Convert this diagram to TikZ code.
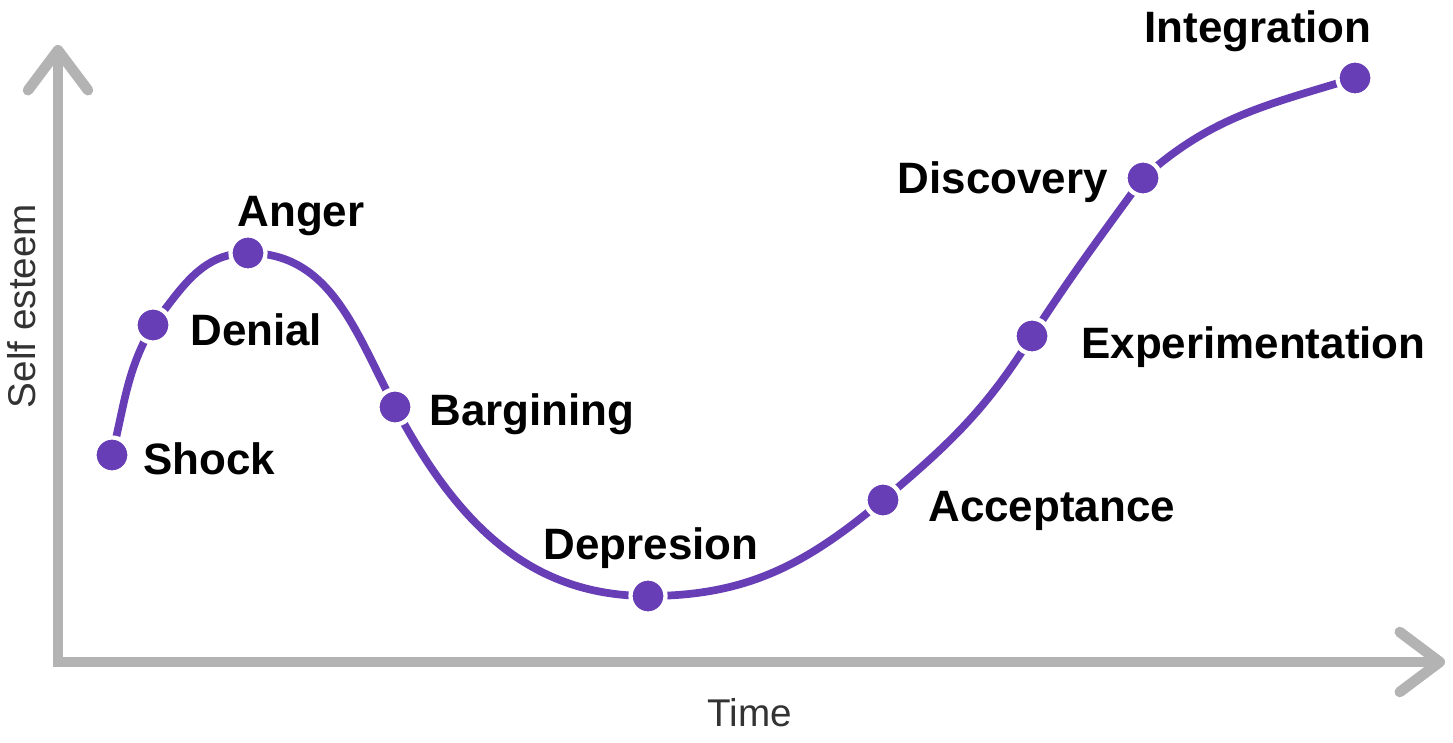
\documentclass[tikz,border=0pt]{standalone}
\usepackage{fontspec}
\setmainfont{Liberation Sans}
\usetikzlibrary{positioning,arrows.meta,backgrounds}

\definecolor{curvepurple}{RGB}{104,62,183}
\definecolor{axisgray}{RGB}{179,179,179}

\begin{document}
\begin{tikzpicture}[
    stage/.style={circle, fill=curvepurple, draw=white, line width=1.2pt, minimum size=3.5mm, inner sep=0pt},
    stagelabel/.style={font=\fontsize{12.5}{15}\selectfont\bfseries, inner sep=0pt, text height=0.32cm, text depth=0pt},
    axislabel/.style={font=\fontsize{11}{13}\selectfont, text=black!80},
    axisline/.style={axisgray, line width=3pt, {Straight Barb[length=4mm,width=6mm,round]}-{Straight Barb[length=4mm,width=6mm,round]}},
  ]
  \useasboundingbox (0,0) rectangle (14.53,7.42);

  % Axes
  \draw[axisline] (0.58,6.97) -- (0.58,0.80) -- (14.45,0.80);
  \node[axislabel, rotate=90] (yname) at (0.22,4.36) {Self esteem};
  \node[axislabel] (xname) at (7.50,0.29) {Time};

  % Stages on the curve
  \foreach \n/\x/\y in {
      shock/1.12/2.87,
      denial/1.53/4.17,
      anger/2.48/4.89,
      bargining/3.95/3.35,
      depression/6.48/1.46,
      acceptance/8.83/2.42,
      experimentation/10.32/4.06,
      discovery/11.43/5.64,
      integration/13.55/6.64} {
    \node[stage] (\n) at (\x,\y) {};
  }

  % Curve behind the dots
  \begin{pgfonlayer}{background}
    \draw[curvepurple, line width=2.2pt]
      (shock.center) to[out=76,in=240] (denial.center)
      to[out=52,in=180] (anger.center)
      to[out=0,in=118] (bargining.center)
      to[out=-62,in=180] (depression.center)
      to[out=0,in=220] (acceptance.center)
      to[out=40,in=238] (experimentation.center)
      to[out=57,in=234] (discovery.center)
      to[out=42,in=197] (integration.center);
  \end{pgfonlayer}

  % Labels
  \node[stagelabel, right=0.11cm of shock, yshift=-0.04cm] (lshock) {Shock};
  \node[stagelabel, right=0.17cm of denial, yshift=-0.05cm] (ldenial) {Denial};
  \node[stagelabel, above=0.06cm of anger, xshift=0.53cm] (langer) {Anger};
  \node[stagelabel, right=0.14cm of bargining, yshift=-0.03cm] (lbargining) {Bargining};
  \node[stagelabel, above=0.16cm of depression, xshift=0.03cm] (ldepression) {Depresion};
  \node[stagelabel, right=0.25cm of acceptance, yshift=-0.06cm] (lacceptance) {Acceptance};
  \node[stagelabel, right=0.29cm of experimentation, yshift=-0.07cm] (lexperimentation) {Experimentation};
  \node[stagelabel, left=0.15cm of discovery] (ldiscovery) {Discovery};
  \node[stagelabel, above=0.15cm of integration, xshift=-0.97cm] (lintegration) {Integration};
\end{tikzpicture}
\end{document}
